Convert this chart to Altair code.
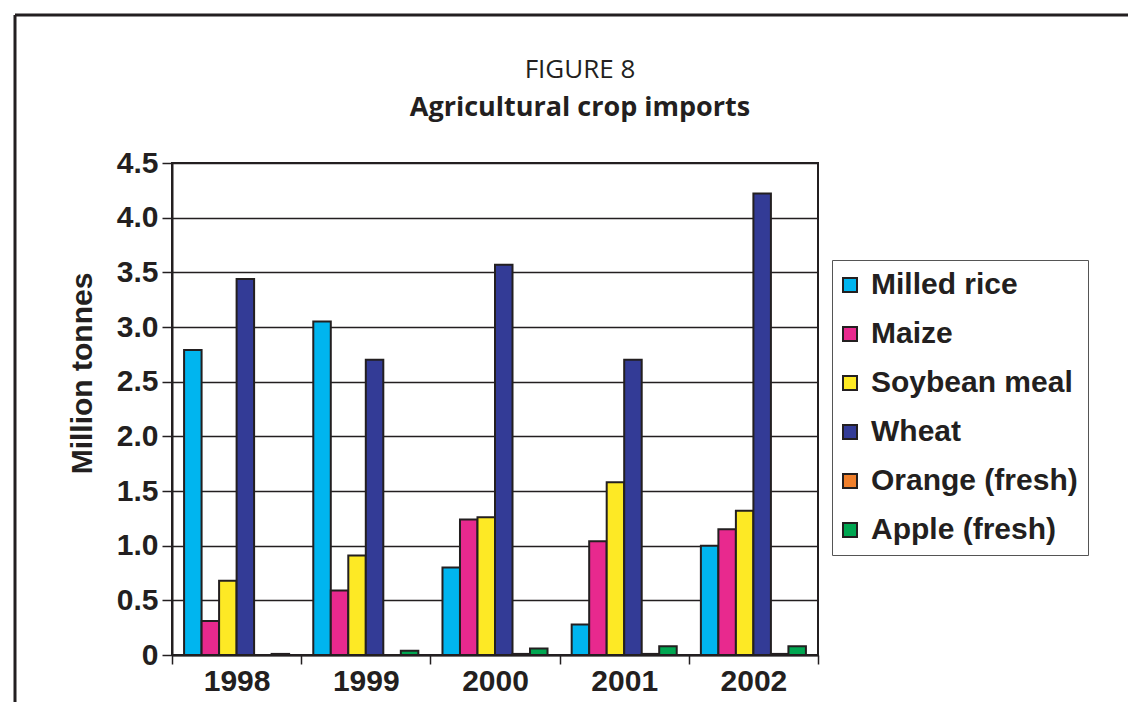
import altair as alt
import pandas as pd

years = ["1998", "1999", "2000", "2001", "2002"]
crops = ["Milled rice", "Maize", "Soybean meal", "Wheat", "Orange (fresh)", "Apple (fresh)"]
colors = ["#00b5ef", "#e8298e", "#fde925", "#333b96", "#f07f2b", "#00a651"]

milled_rice = [2.79, 3.05, 0.80, 0.28, 1.00]
maize = [0.31, 0.59, 1.24, 1.04, 1.15]
soybean_meal = [0.68, 0.91, 1.26, 1.58, 1.32]
wheat = [3.44, 2.70, 3.57, 2.70, 4.22]
orange_fresh = [0.0, 0.0, 0.01, 0.01, 0.01]
apple_fresh = [0.01, 0.04, 0.06, 0.08, 0.08]

title_lines = ["FIGURE 8", "Agricultural crop imports"]

series = [milled_rice, maize, soybean_meal, wheat, orange_fresh, apple_fresh]
rows = []
for crop, vals in zip(crops, series):
    for y, v in zip(years, vals):
        rows.append({"Year": y, "Crop": crop, "Value": v})
df = pd.DataFrame(rows)

FONT = "Liberation Sans"
INK = "#231f20"

bars = alt.Chart(df).mark_bar(stroke=INK, strokeWidth=2).encode(
    x=alt.X("Year:N", sort=years, title=None,
            scale=alt.Scale(paddingInner=0, paddingOuter=0),
            axis=alt.Axis(tickBand="extent", labelAngle=0,
                          labelFont=FONT, labelFontSize=30, labelFontWeight="bold",
                          labelColor=INK, tickSize=9, tickColor=INK,
                          tickWidth=1.5, domainColor=INK, domainWidth=2,
                          labelPadding=2, grid=False)),
    xOffset=alt.XOffset("Crop:N", sort=crops,
                        scale=alt.Scale(paddingInner=0, paddingOuter=0.69)),
    y=alt.Y("Value:Q", title="Million tonnes",
            scale=alt.Scale(domain=[0, 4.5], nice=False),
            axis=alt.Axis(values=[0, 0.5, 1, 1.5, 2, 2.5, 3, 3.5, 4, 4.5],
                          labelExpr="datum.value == 0 ? '0' : format(datum.value, '.1f')",
                          labelFont=FONT, labelFontSize=30, labelFontWeight="bold",
                          labelColor=INK, tickSize=10, tickColor=INK,
                          tickWidth=1.5, domainColor=INK, domainWidth=2,
                          labelPadding=4, grid=True, gridColor=INK,
                          gridWidth=1.5, titleFont=FONT, titleFontSize=30,
                          titleFontWeight="bold", titleColor=INK,
                          titleX=-90, titleY=210, titleAngle=270,
                          titleAlign="center", titleBaseline="middle")),
    color=alt.Color("Crop:N", sort=crops,
                    scale=alt.Scale(domain=crops, range=colors),
                    legend=alt.Legend(title=None, orient="none", legendX=660, legendY=97,
                                      symbolType="square", symbolSize=196,
                                      symbolStrokeColor=INK, symbolStrokeWidth=2,
                                      symbolOffset=-7,
                                      labelFont=FONT, labelFontSize=30,
                                      labelFontWeight="bold", labelColor=INK,
                                      labelLimit=400,
                                      rowPadding=19, padding=10, labelOffset=6,
                                      strokeColor="#555555", fillColor="white")),
)

one = pd.DataFrame({"a": [0]})
frame_top = alt.Chart(one).mark_rule(color=INK, strokeWidth=3).encode(
    x=alt.value(-157), x2=alt.value(960), y=alt.value(-148))
frame_left = alt.Chart(one).mark_rule(color=INK, strokeWidth=3).encode(
    x=alt.value(-157), y=alt.value(-148), y2=alt.value(545))

title1 = alt.Chart(pd.DataFrame({"t": [title_lines[0]]})).mark_text(
    font="Open Sans", fontSize=26, fontWeight="normal", color=INK,
    align="center", baseline="alphabetic").encode(
    text="t:N", x=alt.value(408), y=alt.value(-85))
title2 = alt.Chart(pd.DataFrame({"t": [title_lines[1]]})).mark_text(
    font="Open Sans", fontSize=27, fontWeight="bold", color=INK,
    align="center", baseline="alphabetic").encode(
    text="t:N", x=alt.value(408), y=alt.value(-47))

chart = alt.layer(frame_top, frame_left, title1, title2, bars).properties(
    width=646, height=492,
    autosize=alt.AutoSizeParams(type="none"),
    padding={"left": 172, "top": 163, "right": 310, "bottom": 47},
).configure_view(stroke=INK, strokeWidth=2)

chart.save("out.html", embed_options={"renderer": "svg", "actions": False})
